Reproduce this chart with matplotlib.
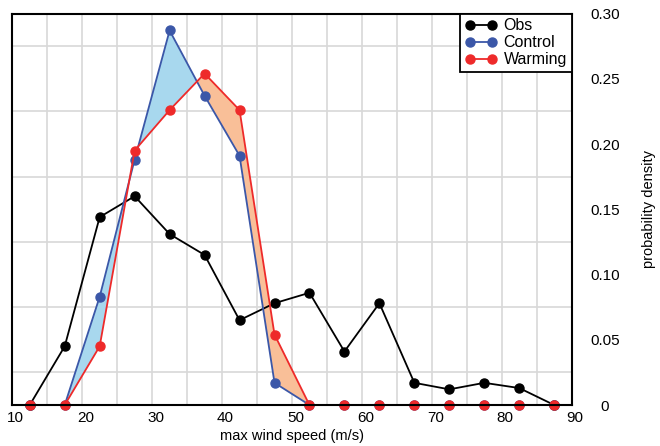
import numpy as np
import matplotlib
matplotlib.use("Agg")
import matplotlib.pyplot as plt

plt.rcParams["font.family"] = ["Liberation Sans", "DejaVu Sans"]

# bin centres (m/s)
wind = np.array([12, 17, 22, 27, 32, 37, 42, 47, 52, 57, 62, 67, 72, 77, 82, 87])
obs = np.array([0.0, 0.045, 0.144, 0.160, 0.131, 0.115, 0.065, 0.078,
                0.086, 0.041, 0.078, 0.017, 0.012, 0.017, 0.013, 0.0])
control = np.array([0.0, 0.0, 0.083, 0.188, 0.287, 0.237, 0.191, 0.017,
                    0.0, 0.0, 0.0, 0.0, 0.0, 0.0, 0.0, 0.0])
warming = np.array([0.0, 0.0, 0.045, 0.195, 0.226, 0.254, 0.226, 0.054,
                    0.0, 0.0, 0.0, 0.0, 0.0, 0.0, 0.0, 0.0])
xticks = [10, 20, 30, 40, 50, 60, 70, 80]
yticks = [0, 0.05, 0.10, 0.15, 0.20, 0.25, 0.30]
ytick_labels = ["0", "0.05", "0.10", "0.15", "0.20", "0.25", "0.30"]

c_obs = "black"
c_ctl = "#3b57a8"
c_warm = "#ee2a2a"

fig = plt.figure(figsize=(6.6, 4.46), dpi=100)
ax = fig.add_axes([0.0186, 0.0919, 0.8476, 0.8778])

ax.fill_between(wind, control, warming, where=control >= warming,
                interpolate=True, color="#a8d8ee", lw=0, zorder=2)
ax.fill_between(wind, control, warming, where=warming >= control,
                interpolate=True, color="#f9bf98", lw=0, zorder=2)

kw = dict(marker="o", markersize=6.5, lw=1.3, clip_on=False)
ax.plot(wind, obs, color=c_obs, label="Obs", zorder=3, **kw)
ax.plot(wind, control, color=c_ctl, label="Control", zorder=4, **kw)
ax.plot(wind, warming, color=c_warm, label="Warming", zorder=5, **kw)

ax.set_xlim(9.5, 89.5)
ax.set_ylim(0, 0.30)

# grid on bin edges and every 0.025
ax.set_xticks(np.arange(14.5, 89.5, 5), minor=True)
ax.set_yticks(np.arange(0.025, 0.30, 0.025), minor=True)
ax.grid(which="minor", color="#d8d8d8", lw=1.2, zorder=0)
ax.set_axisbelow(True)

ax.set_xticks(xticks)
ax.set_xticklabels([str(t) for t in xticks])
ax.tick_params(axis="x", which="both", length=0, labelsize=11, pad=4)
# 90 sits just past the right edge of the axes
ax.annotate("90", xy=(90, 0), xycoords="data", xytext=(0, -4),
            textcoords="offset points", ha="center", va="top",
            fontsize=11, annotation_clip=False)

ax.yaxis.tick_right()
ax.set_yticks(yticks)
ax.set_yticklabels(ytick_labels)
ax.tick_params(axis="y", which="both", length=0, labelsize=11, pad=24)
for lab in ax.get_yticklabels():
    lab.set_horizontalalignment("center")

ax.yaxis.set_label_position("right")
ax.set_ylabel("probability density", fontsize=10.5, labelpad=16)
ax.set_xlabel("max wind speed (m/s)", fontsize=10.5, labelpad=3)

for s in ax.spines.values():
    s.set_linewidth(1.5)
    s.set_zorder(6)

leg = ax.legend(loc="upper right", borderaxespad=0, fancybox=False,
                framealpha=1, edgecolor="black", fontsize=11.5,
                handlelength=2.0, handletextpad=0.4, labelspacing=0.12,
                borderpad=0.3, numpoints=2)
leg.get_frame().set_linewidth(1.3)
leg.set_zorder(10)

fig.savefig("out.png", dpi=100)
